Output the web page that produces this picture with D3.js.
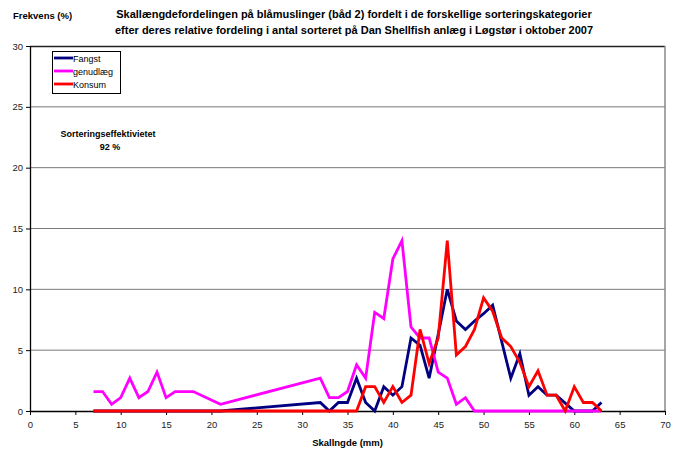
<!DOCTYPE html>
<html>
<head>
<meta charset="utf-8">
<script src="https://cdn.jsdelivr.net/npm/d3@7"></script>
<style>
  body { margin: 0; background: #fff; }
  svg { font-family: "Liberation Sans", Arial, sans-serif; }
</style>
</head>
<body>
<div id="chart"></div>
<script>
// shell length (mm)
var lengths = [7, 8, 9, 10, 11, 12, 13, 14, 15, 16, 17, 18, 21, 32, 33, 34, 35, 36, 37, 38, 39, 40,
  41, 42, 43, 44, 45, 46, 47, 48, 49, 50, 51, 52, 53, 54, 55, 56, 57, 58, 59, 60, 61, 62, 63];

var fangst = [0, 0, 0, 0, 0, 0, 0, 0, 0, 0, 0, 0, 0, 0.7, 0, 0.7, 0.7, 2.7, 0.7, 0, 2.0, 1.3,
  2.0, 6.0, 5.4, 2.7, 6.3, 10.0, 7.4, 6.7, 7.4, 8.0, 8.7, 5.7, 2.7, 4.7, 1.3, 2.0, 1.3, 1.3, 0.65, 0, 0, 0, 0.7];

var genudlaeg = [1.6, 1.6, 0.55, 1.1, 2.7, 1.1, 1.6, 3.2, 1.1, 1.6, 1.6, 1.6, 0.55, 2.7, 1.1, 1.1, 1.6, 3.8, 2.7, 8.1, 7.6, 12.5,
  14.0, 6.9, 6.0, 6.0, 3.2, 2.7, 0.55, 1.1, 0, 0, 0, 0, 0, 0, 0, 0, 0, 0, 0, 0, 0, 0, 0];

var konsum = [0, 0, 0, 0, 0, 0, 0, 0, 0, 0, 0, 0, 0, 0, 0, 0, 0, 0, 2.0, 2.0, 0.7, 2.0,
  0.7, 1.3, 6.7, 3.9, 6.0, 14.0, 4.6, 5.3, 6.7, 9.3, 8.2, 6.0, 5.3, 4.0, 2.0, 3.3, 1.3, 1.3, 0, 2.0, 0.7, 0.7, 0];

var xTicks = d3.range(0, 71, 5);
var yTicks = d3.range(0, 31, 5);

var series = [
  {name: "Fangst", values: fangst, color: "#000080"},
  {name: "genudlæg", values: genudlaeg, color: "#ff00ff"},
  {name: "Konsum", values: konsum, color: "#ff0000"}
];

var W = 673, H = 451;
var margin = {top: 46, right: 8, bottom: 40, left: 30},
    width = W - margin.left - margin.right,
    height = H - margin.top - margin.bottom;

var svg = d3.select("#chart").append("svg")
    .attr("width", W)
    .attr("height", H);

var g = svg.append("g")
    .attr("transform", "translate(" + margin.left + "," + margin.top + ")");

var x = d3.scaleLinear().domain([0, 70]).range([0, width]);
var y = d3.scaleLinear().domain([0, 30]).range([height, 0]);

// gridlines
g.selectAll(".grid")
    .data(yTicks.filter(function (d) { return d > 0 && d < 30; }))
    .enter().append("line")
    .attr("x1", 0).attr("x2", width)
    .attr("y1", function (d) { return y(d); })
    .attr("y2", function (d) { return y(d); })
    .attr("stroke", "#7a7a7a")
    .attr("stroke-width", 1);

// plot frame: top dark, right grey
g.append("line").attr("x1", 0).attr("x2", width).attr("y1", 0.5).attr("y2", 0.5)
    .attr("stroke", "#222").attr("stroke-width", 1.5);
g.append("line").attr("x1", width).attr("x2", width).attr("y1", 0).attr("y2", height)
    .attr("stroke", "#888").attr("stroke-width", 1.5);

// axes
var xAxis = g.append("g")
    .attr("transform", "translate(0," + height + ")")
    .call(d3.axisBottom(x).tickValues(xTicks).tickSize(4).tickSizeOuter(0));
var yAxis = g.append("g")
    .call(d3.axisLeft(y).tickValues(yTicks).tickSize(4).tickSizeOuter(0));

[xAxis, yAxis].forEach(function (a) {
  a.select(".domain").attr("stroke", "#000").attr("stroke-width", 1.3);
  a.selectAll(".tick line").attr("stroke", "#000");
  a.selectAll(".tick text")
      .style("font-family", "'Liberation Sans', Arial, sans-serif")
      .style("font-size", "9.5px")
      .attr("fill", "#222");
});
xAxis.selectAll(".tick text").attr("dy", "1.05em");

// lines
var line = d3.line()
    .x(function (d, i) { return x(lengths[i]); })
    .y(function (d) { return y(d); });

series.forEach(function (s) {
  g.append("path")
      .datum(s.values)
      .attr("fill", "none")
      .attr("stroke", s.color)
      .attr("stroke-width", 2.8)
      .attr("stroke-linejoin", "miter")
      .attr("d", line);
});

// legend
var legend = svg.append("g").attr("transform", "translate(52,51)");
legend.append("rect")
    .attr("x", 0.5).attr("y", 0.5)
    .attr("width", 68).attr("height", 42)
    .attr("fill", "#fff").attr("stroke", "#000").attr("stroke-width", 1);
series.forEach(function (s, i) {
  var ly = 7 + i * 13;
  legend.append("line")
      .attr("x1", 2).attr("x2", 21)
      .attr("y1", ly).attr("y2", ly)
      .attr("stroke", s.color).attr("stroke-width", 2.8);
  legend.append("text")
      .attr("x", 21).attr("y", ly + 3.5)
      .style("font-size", "9px")
      .attr("fill", "#000")
      .text(s.name);
});

// titles
svg.append("text")
    .attr("x", 354).attr("y", 18)
    .attr("text-anchor", "middle")
    .style("font-size", "11px").style("font-weight", "bold")
    .text("Skallængdefordelingen på blåmuslinger (båd 2) fordelt i de forskellige sorteringskategorier");
svg.append("text")
    .attr("x", 354).attr("y", 34)
    .attr("text-anchor", "middle")
    .style("font-size", "11px").style("font-weight", "bold")
    .text("efter deres relative fordeling i antal sorteret på Dan Shellfish anlæg  i Løgstør i oktober 2007");

svg.append("text")
    .attr("x", 13).attr("y", 19)
    .style("font-size", "9.5px").style("font-weight", "bold")
    .text("Frekvens (%)");

// annotation
svg.append("text")
    .attr("x", 108).attr("y", 137)
    .attr("text-anchor", "middle")
    .style("font-size", "9px").style("font-weight", "bold")
    .text("Sorteringseffektivietet");
svg.append("text")
    .attr("x", 110).attr("y", 150)
    .attr("text-anchor", "middle")
    .style("font-size", "9px").style("font-weight", "bold")
    .text("92 %");

// x axis title
svg.append("text")
    .attr("x", margin.left + x(35)).attr("y", 446)
    .attr("text-anchor", "middle")
    .style("font-size", "9.5px").style("font-weight", "bold")
    .text("Skallngde (mm)");
</script>
</body>
</html>
